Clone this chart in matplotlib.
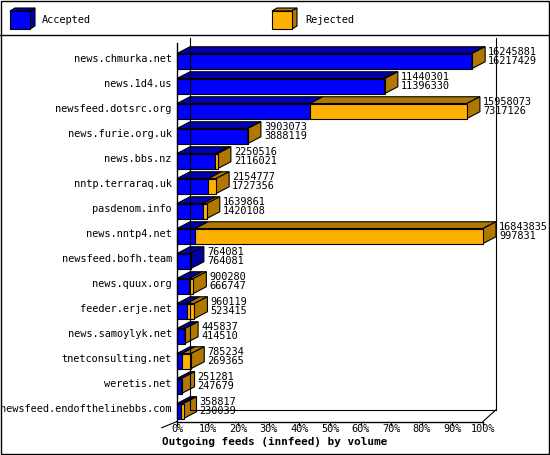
import matplotlib
matplotlib.use("Agg")
import matplotlib.pyplot as plt
from matplotlib.patches import Polygon, Rectangle

hosts = ["news.chmurka.net", "news.1d4.us", "newsfeed.dotsrc.org", "news.furie.org.uk",
         "news.bbs.nz", "nntp.terraraq.uk", "pasdenom.info", "news.nntp4.net",
         "newsfeed.bofh.team", "news.quux.org", "feeder.erje.net", "news.samoylyk.net",
         "tnetconsulting.net", "weretis.net", "newsfeed.endofthelinebbs.com"]
offered = [16245881, 11440301, 15958073, 3903073, 2250516, 2154777, 1639861, 16843835,
           764081, 900280, 960119, 445837, 785234, 251281, 358817]
accepted = [16217429, 11396330, 7317126, 3888119, 2116021, 1727356, 1420108, 997831,
            764081, 666747, 523415, 414510, 269365, 247679, 230039]
ticks = [0, 10, 20, 30, 40, 50, 60, 70, 80, 90, 100]
tick_labels = [f"{t}%" for t in ticks]

W, H = 550, 455
fig = plt.figure(figsize=(W/100, H/100), dpi=100)
FONT = "DejaVu Sans Mono"
FS = 7.4

lax = fig.add_axes([0, 0, 1, 1])
lax.set_xlim(0, W); lax.set_ylim(H, 0); lax.axis("off")
lax.add_patch(Rectangle((0.5, 0.5), W-1.5, H-1.5, fill=False, lw=1, ec="black"))
lax.plot([0, W], [35, 35], color="black", lw=1)
def pbox(x, y, w, h, d, face, top, side, ax):
    ax.add_patch(Polygon([(x, y), (x+w, y), (x+w+d[0], y-d[1]), (x+d[0], y-d[1])], fc=top, ec="black", lw=0.8))
    ax.add_patch(Polygon([(x+w, y), (x+w+d[0], y-d[1]), (x+w+d[0], y+h-d[1]), (x+w, y+h)], fc=side, ec="black", lw=0.8))
    ax.add_patch(Rectangle((x, y), w, h, fc=face, ec="black", lw=0.8))
pbox(10, 11, 20, 18, (5, 3), "#0000ff", "#0000b0", "#0000a0", lax)
pbox(272, 11, 20, 18, (5, 3), "#ffb000", "#b07800", "#b07800", lax)
lax.text(42, 20, "Accepted", fontsize=FS, family=FONT, va="center")
lax.text(305, 20, "Rejected", fontsize=FS, family=FONT, va="center")
lax.text(275, 442, "Outgoing feeds (innfeed) by volume", fontsize=FS+0.5, family=FONT,
         weight="bold", ha="center", va="center")

ax = fig.add_axes([177/W, (H-421.5)/H, 306/W, 375/H])
ax.set_xlim(0, 100); ax.set_ylim(14.5, -0.5); ax.axis("off")
dx = 13/306*100; dy = 0.27
h = 0.6
mx = max(offered)
ax.plot([dx, dx], [14.3 - dy, -0.85], color="black", lw=0.8, clip_on=False)
ax.plot([100+dx, 100+dx], [14.3 - dy, -0.85], color="black", lw=0.8, clip_on=False)
ax.plot([dx, 100+dx], [14.3-dy, 14.3-dy], color="black", lw=0.8, clip_on=False)
ax.plot([0, 0], [14.5, -0.65], color="black", lw=1, clip_on=False)
ax.plot([0, 100], [14.5, 14.5], color="black", lw=1, clip_on=False)
ax.plot([100, 100+dx], [14.5, 14.3-dy], color="black", lw=0.8, clip_on=False)
ax.plot([-5, 0], [14.75, 14.5], color="black", lw=0.8, clip_on=False)

def seg(x0, x1, yc, face, top, side, draw_side):
    yt = yc - h/2 + 0.08; yb = yc + h/2 + 0.08
    ax.add_patch(Polygon([(x0, yt), (x1, yt), (x1+dx, yt-dy), (x0+dx, yt-dy)], fc=top, ec="black", lw=0.8, clip_on=False))
    if draw_side:
        ax.add_patch(Polygon([(x1, yt), (x1+dx, yt-dy), (x1+dx, yb-dy), (x1, yb)], fc=side, ec="black", lw=0.8, clip_on=False))
    ax.add_patch(Rectangle((x0, yt), x1-x0, h, fc=face, ec="black", lw=0.8, clip_on=False))

for i, (name, o, a) in enumerate(zip(hosts, offered, accepted)):
    xa = a/mx*100; xo = o/mx*100
    seg(0, xa, i, "#0000ff", "#0000b0", "#0000a0", xo <= xa)
    if xo > xa:
        seg(xa, xo, i, "#ffb000", "#b07800", "#b07800", True)
    ax.text(xo+dx+1, i-0.1, f"{o}\n{a}", fontsize=FS, family=FONT, va="center",
            ha="left", linespacing=0.95, clip_on=False)
    ax.text(-1.7, i, name, fontsize=FS, family=FONT, ha="right", va="center", clip_on=False)

for t, lab in zip(ticks, tick_labels):
    ax.plot([t, t], [14.5, 14.65], color="black", lw=0.8, clip_on=False)
    ax.text(t, 14.6, lab, fontsize=FS, family=FONT, ha="center", va="top", clip_on=False)

fig.savefig("out.png", dpi=100)
